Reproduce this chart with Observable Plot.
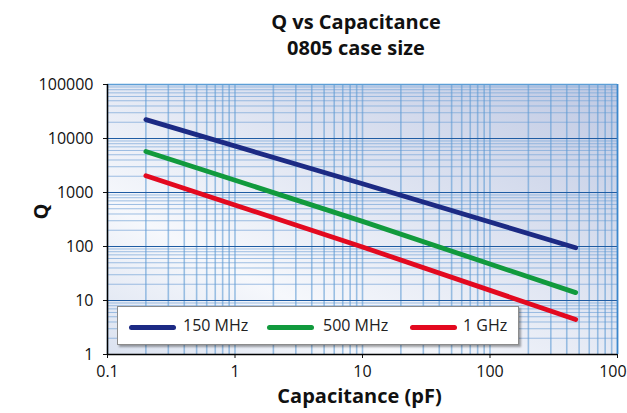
<!DOCTYPE html>
<html>
<head>
<meta charset="utf-8">
<script src="https://cdn.jsdelivr.net/npm/d3@7"></script>
<script src="https://cdn.jsdelivr.net/npm/@observablehq/plot@0.6"></script>
<style>
  html, body { margin: 0; padding: 0; background: #fff; }
  body { font-family: "Open Sans", sans-serif; color: #1a1a1a; }
  #wrap { position: relative; width: 627px; height: 413px; overflow: hidden; }
  #title { box-sizing: border-box; height: 70px; padding-top: 9px; margin-left: 107px; width: 498px;
           text-align: center; font-weight: bold; font-size: 20px; line-height: 26px; color: #111; }
  #legend { position: absolute; left: 117px; top: 306px; width: 402px; height: 39px; box-sizing: border-box;
            background: #fff; border: 1px solid #8c8c8c; box-shadow: 2px 2px 2px rgba(0,0,0,0.35); }
  .sw { position: absolute; width: 47px; height: 5px; border-radius: 3px; top: 18px; }
  .lt { position: absolute; top: 7px; font-size: 16px; line-height: 22px; color: #222; white-space: nowrap; }
</style>
</head>
<body>
<div id="wrap">
  <div id="title"></div>
  <div id="chart"></div>
  <div id="legend"></div>
</div>
<script>
// ---- data ----
const titleLines = ["Q vs Capacitance", "0805 case size"];
const xLabel = "Capacitance (pF)";
const yLabel = "Q";
const series = ["150 MHz", "500 MHz", "1 GHz"];
const colors = ["#1c2a84", "#119a3d", "#e3091f"];
const capacitance = [0.2, 10, 470];
const q150MHz = [22400, 1450, 95];
const q500MHz = [5750, 292, 14];
const q1GHz = [2040, 98, 4.45];
const xTicks = [0.1, 1, 10, 100, 1000];
const yTicks = [1, 10, 100, 1000, 10000, 100000];

const seriesValues = [q150MHz, q500MHz, q1GHz];
const rows = series.flatMap((s, si) => capacitance.map((c, i) => ({series: s, cap: c, q: seriesValues[si][i]})));

// minor grid positions from the log scales' own ticks
const xMinor = d3.scaleLog().domain([0.1, 1000]).ticks();
const yMinor = d3.scaleLog().domain([1, 100000]).ticks();

document.getElementById("title").innerHTML = titleLines.map(t => `<div>${t}</div>`).join("");

const plot = Plot.plot({
  width: 627,
  height: 343,
  marginTop: 14,
  marginBottom: 59,
  marginLeft: 107,
  marginRight: 10,
  style: {fontFamily: "Open Sans", fontSize: "16px", color: "#111", background: "transparent", overflow: "visible"},
  x: {type: "log", domain: [0.1, 1000]},
  y: {type: "log", domain: [1, 100000]},
  color: {domain: series, range: colors},
  marks: [
    Plot.frame({fill: "#e9edf6", stroke: "none"}),
    Plot.ruleY(yMinor, {stroke: "#7faad9", strokeWidth: 1, strokeOpacity: 0.75}),
    Plot.ruleX(xMinor, {stroke: "#5f9bd3", strokeWidth: 1.6, strokeOpacity: 0.6}),
    Plot.ruleY(yTicks, {stroke: "#1f5ca3", strokeWidth: 1.1}),
    Plot.ruleY([100000], {stroke: "#5d9ed6", strokeWidth: 1.5}),
    Plot.ruleX([1000], {stroke: "#3a86cb", strokeWidth: 1.6}),
    Plot.line(rows, {x: "cap", y: "q", stroke: "series", z: "series", strokeWidth: 4.8, strokeLinecap: "round"}),
    Plot.axisX({ticks: xTicks, tickFormat: d => String(d), tickSize: 4, tickPadding: 7, label: null}),
    Plot.axisY({ticks: yTicks, tickFormat: d => String(d), tickSize: 4, tickPadding: 10, label: null}),
    Plot.ruleX([0.1], {stroke: "#000", strokeWidth: 1.5}),
    Plot.ruleY([1], {stroke: "#000", strokeWidth: 1.5}),
    Plot.text([xLabel], {frameAnchor: "bottom", dy: 48, dx: -3, fontWeight: "bold", fontSize: 20, fill: "#111"}),
    Plot.text([yLabel], {frameAnchor: "left", rotate: -90, dx: -66, fontWeight: "bold", fontSize: 20, fill: "#111"})
  ]
});

// gradient background for the plot frame
const svg = d3.select(plot.tagName === "svg" ? plot : plot.querySelector("svg"));
const defs = svg.insert("defs", ":first-child");
const grad = defs.append("linearGradient").attr("id", "bgGrad")
  .attr("x1", "0").attr("y1", "1").attr("x2", "1").attr("y2", "0");
grad.append("stop").attr("offset", "0%").attr("stop-color", "#dbe2f0");
grad.append("stop").attr("offset", "28%").attr("stop-color", "#f6f8fc");
grad.append("stop").attr("offset", "100%").attr("stop-color", "#bfc9e3");
svg.select('[aria-label="frame"]').attr("fill", "url(#bgGrad)");
svg.select('[aria-label="frame"] rect').attr("fill", "url(#bgGrad)");

document.getElementById("chart").appendChild(plot);

// legend
const legend = document.getElementById("legend");
const swLeft = [11, 149, 292];
const txLeft = [65, 205, 345];
series.forEach((s, i) => {
  const sw = document.createElement("div");
  sw.className = "sw";
  sw.style.left = swLeft[i] + "px";
  sw.style.background = colors[i];
  legend.appendChild(sw);
  const t = document.createElement("div");
  t.className = "lt";
  t.style.left = txLeft[i] + "px";
  t.textContent = s;
  legend.appendChild(t);
});
</script>
</body>
</html>
